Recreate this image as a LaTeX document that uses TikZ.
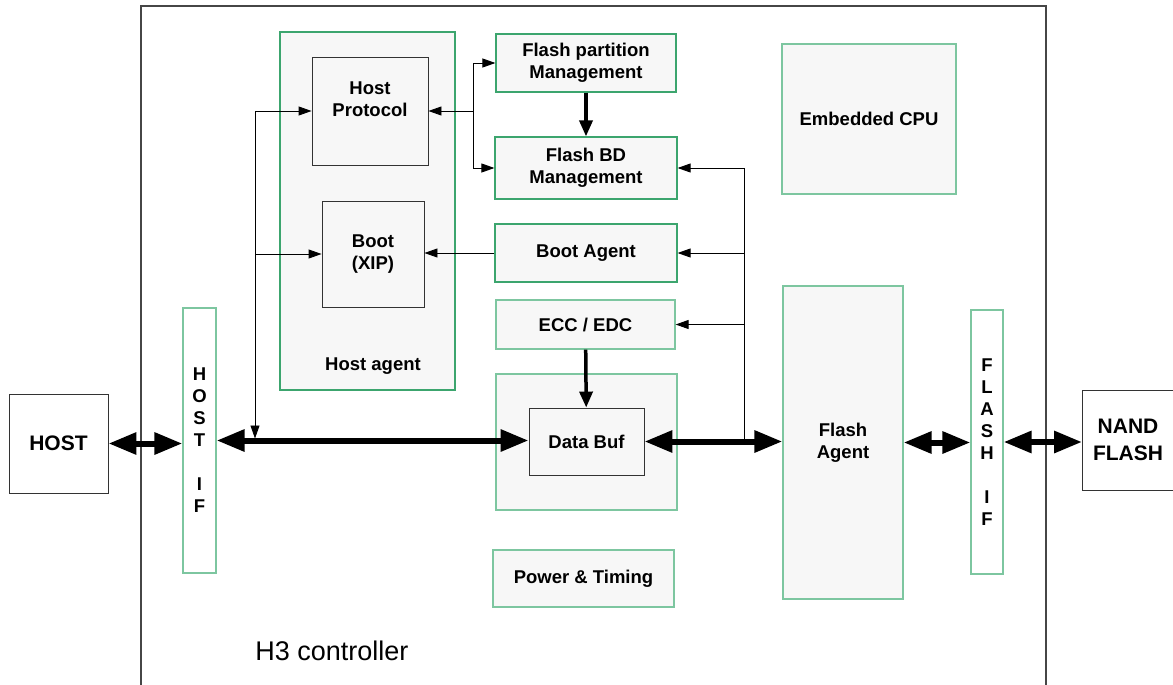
\documentclass[tikz,border=0pt]{standalone}
\usepackage{fontspec}
\setmainfont{Liberation Sans}
\usetikzlibrary{arrows.meta}

\definecolor{agentgreen}{RGB}{60,165,110}
\definecolor{palegreen}{RGB}{125,198,160}
\definecolor{boxfill}{RGB}{247,247,247}
\definecolor{framegray}{RGB}{70,70,70}

\tikzset{
  box/.style={draw=agentgreen, line width=1.2pt, fill=boxfill, inner sep=0pt,
    align=center, font=\bfseries\fontsize{18.5}{22}\selectfont},
  pale/.style={box, draw=palegreen},
  blk/.style={box, draw=black!80, line width=0.9pt},
  ext/.style={blk, fill=white, font=\bfseries\fontsize{21}{27}\selectfont},
  bus/.style={line width=6pt, {Triangle[length=28pt,width=21pt]}-{Triangle[length=28pt,width=21pt]}},
  fat/.style={line width=3.5pt, -{Triangle[length=16pt,width=13pt]}},
  sig/.style={line width=0.9pt, -{Triangle[length=13pt,width=9pt]}},
}

\begin{document}
\begin{tikzpicture}[x=1pt, y=-1pt]
  \useasboundingbox (0,0) rectangle (1173,685);

  %controller frame
  \draw[framegray, line width=1.2pt] (141,685) -- (141,6) -- (1046,6) -- (1046,685);
  \node[font=\fontsize{27}{32}\selectfont] (ctrl) at (332,651) {H3 controller};

  %outside parts
  \node[ext, minimum width=99pt, minimum height=99pt] (host) at (58.5,443.5) {HOST};
  \node[ext, minimum width=91pt, minimum height=100pt] (nand) at (1128,440) {NAND\\FLASH};

  %interfaces
  \node[pale, fill=white, minimum width=33pt, minimum height=265pt] (hostif) at (199.5,440.5)
        {H\\O\\S\\T\\[22pt]I\\F};
  \node[pale, fill=white, minimum width=32pt, minimum height=264pt] (flashif) at (987,442)
        {F\\L\\A\\S\\H\\[22pt]I\\F};

  %host agent
  \node[box, minimum width=175pt, minimum height=358pt] (hostagent) at (367.5,211) {};
  \node[font=\bfseries\fontsize{18.5}{22}\selectfont] (halbl) at (373,366) {Host agent};
  \node[blk, minimum width=116pt, minimum height=108pt,
        label={[font=\bfseries\fontsize{18.5}{22}\selectfont, align=center, yshift=12pt]center:Host\\Protocol}]
        (hostproto) at (370,111) {};
  \node[blk, minimum width=102pt, minimum height=106pt] (boot) at (373,254) {Boot\\(XIP)};

  %middle column
  \node[box, minimum width=180pt, minimum height=58pt] (fpm) at (586,63) {Flash partition\\Management};
  \node[box, minimum width=182pt, minimum height=62pt] (fbd) at (586,168) {Flash BD\\Management};
  \node[box, minimum width=182pt, minimum height=58pt] (bootagent) at (586,253) {Boot Agent};
  \node[pale, minimum width=179pt, minimum height=49pt] (ecc) at (585.5,324.5) {ECC / EDC};
  \node[pale, minimum width=181pt, minimum height=136pt] (dbufarea) at (586.5,442) {};
  \node[blk, minimum width=115pt, minimum height=67pt] (databuf) at (586.5,441.5) {Data Buf};
  \node[pale, minimum width=181pt, minimum height=57pt] (power) at (583.5,578.5) {Power \& Timing};

  %right column
  \node[pale, minimum width=174pt, minimum height=150pt] (cpu) at (869,119) {Embedded CPU};
  \node[pale, minimum width=120pt, minimum height=313pt] (flashagent) at (843,442.5) {Flash\\Agent};

  %data bus
  \draw[bus] (host.east) -- (host.east -| hostif.west);
  \draw[bus] (hostif.east) -- (hostif.east -| databuf.west);
  \draw[bus] (databuf.east) -- (databuf.east -| flashagent.west);
  \draw[bus] (flashagent.east) -- (flashagent.east -| flashif.west);
  \draw[bus] (flashif.east) -- (flashif.east -| nand.west);

  %thick arrows
  \draw[fat] (fpm) -- (fbd);
  \draw[fat] (ecc) -- (databuf);

  %left tap
  \coordinate (ltap) at (255,111);
  \draw[sig] (ltap) -- (hostproto.west);
  \draw[sig] (ltap |- boot.west) -- (boot.west);
  \draw[sig, shorten >=3pt] (ltap) -- (ltap |- databuf.west);

  %protocol tap
  \coordinate (ptap) at (473,111);
  \draw[sig] (ptap) -- (hostproto.east);
  \draw[sig] (ptap) |- (fpm.west);
  \draw[sig] (ptap) |- (fbd.west);
  \draw[sig] (bootagent.west) -- (bootagent.west -| boot.east);

  %right tap
  \coordinate (rtap) at (744,441);
  \draw[sig] (rtap) |- (fbd.east);
  \foreach \n in {bootagent,ecc}
    \draw[sig] (rtap |- \n.east) -- (\n.east);
\end{tikzpicture}
\end{document}
